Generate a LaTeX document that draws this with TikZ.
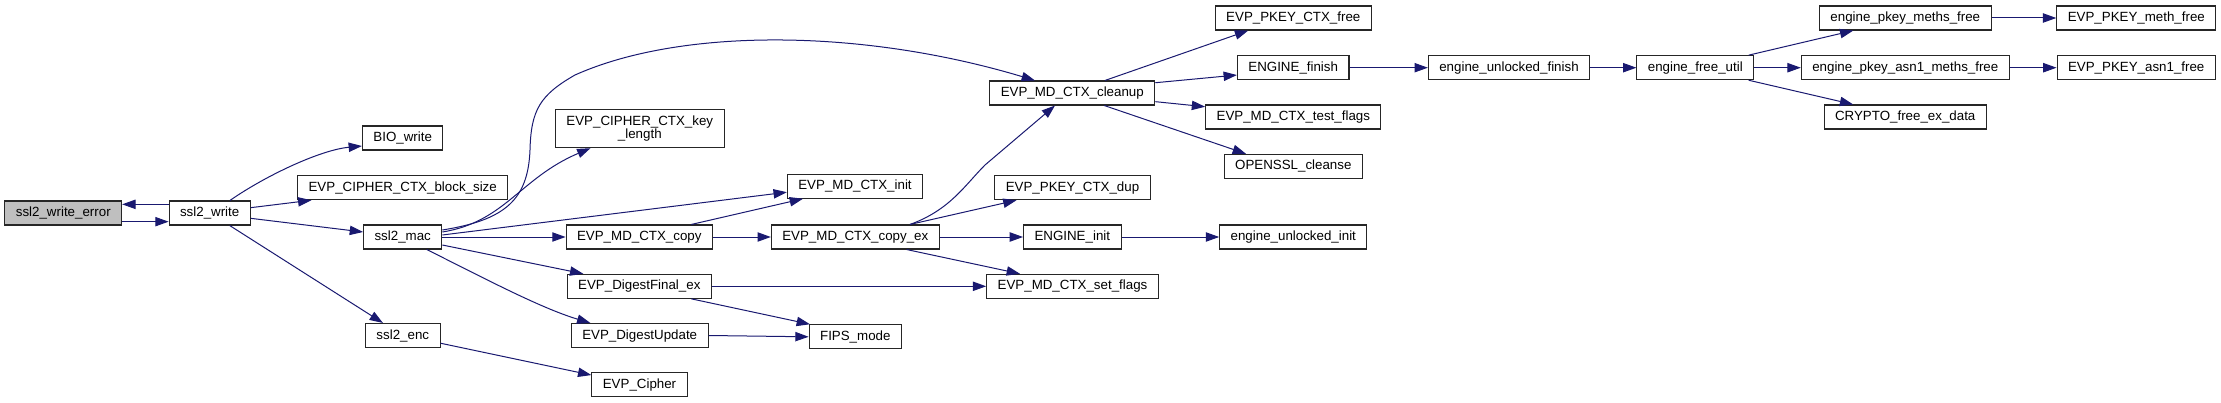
\documentclass[tikz,border=0pt]{standalone}
\usepackage{fontspec}
\setmainfont{Liberation Sans}
\usetikzlibrary{arrows.meta}
\usepackage{tikz}
\definecolor{edgeblue}{HTML}{191970}
\definecolor{boxgray}{HTML}{BFBFBF}

\begin{document}
\begin{tikzpicture}[x=0.75pt, y=-0.75pt,
    fn/.style={draw=black!85, line width=0.8pt, fill=white, minimum height=18pt, inner xsep=8.2pt, inner ysep=0pt, text height=7.5pt, text depth=2pt, font=\fontsize{10}{10}\selectfont},
    call/.style={draw=edgeblue, line width=0.75pt, -{Triangle[length=10pt, width=7pt]}}]
    \useasboundingbox (0,0) rectangle (2221,403);
    \node[fn, fill=boxgray] (err) at (63.3,213) {ssl2\_write\_error};
    \node[fn] (write) at (209.7,213) {ssl2\_write};
    \node[fn] (bio) at (402.7,138) {BIO\_write};
    \node[fn] (blocksize) at (402.7,187.7) {EVP\_CIPHER\_CTX\_block\_size};
    \node[fn] (mac) at (402.7,237) {ssl2\_mac};
    \node[fn] (enc) at (402.8,335.5) {ssl2\_enc};
    \node[fn, text height=, text depth=, minimum height=28.3pt, align=center] (keylen) at (639.8,128.8) {EVP\_CIPHER\_CTX\_key\\\_length};
    \node[fn] (mdcopy) at (639.3,237) {EVP\_MD\_CTX\_copy};
    \node[fn] (dfinal) at (639.3,286.3) {EVP\_DigestFinal\_ex};
    \node[fn] (dupdate) at (639.7,335.5) {EVP\_DigestUpdate};
    \node[fn] (cipher) at (639.5,384.8) {EVP\_Cipher};
    \node[fn] (mdinit) at (855,186.2) {EVP\_MD\_CTX\_init};
    \node[fn] (copyex) at (855.3,237) {EVP\_MD\_CTX\_copy\_ex};
    \node[fn] (fips) at (855.3,336.8) {FIPS\_mode};
    \node[fn] (cleanup) at (1072.3,93) {EVP\_MD\_CTX\_cleanup};
    \node[fn] (pkdup) at (1072.5,187.7) {EVP\_PKEY\_CTX\_dup};
    \node[fn] (einit) at (1072.3,237) {ENGINE\_init};
    \node[fn] (setflags) at (1072.5,286.3) {EVP\_MD\_CTX\_set\_flags};
    \node[fn] (pkfree) at (1293.3,18) {EVP\_PKEY\_CTX\_free};
    \node[fn] (efinish) at (1293.2,67.7) {ENGINE\_finish};
    \node[fn] (testflags) at (1293.3,117) {EVP\_MD\_CTX\_test\_flags};
    \node[fn] (cleanse) at (1293.3,166.3) {OPENSSL\_cleanse};
    \node[fn] (euinit) at (1293.3,237) {engine\_unlocked\_init};
    \node[fn] (eufinish) at (1509,67.7) {engine\_unlocked\_finish};
    \node[fn] (freeutil) at (1695.3,67.7) {engine\_free\_util};
    \node[fn] (pmfree) at (1905.3,18) {engine\_pkey\_meths\_free};
    \node[fn] (pamfree) at (1905.3,67.7) {engine\_pkey\_asn1\_meths\_free};
    \node[fn] (cryptofree) at (1905.2,117) {CRYPTO\_free\_ex\_data};
    \node[fn] (pkmfree) at (2136.3,18) {EVP\_PKEY\_meth\_free};
    \node[fn] (pkafree) at (2136.2,67.7) {EVP\_PKEY\_asn1\_free};
    \draw[call] ([yshift=-6.5pt]err.east) -- ([yshift=-6.5pt]write.west);
    \draw[call] ([yshift=6.5pt]write.west) -- ([yshift=6.5pt]err.east);
    \draw[call] ([xshift=15.2pt]write.north) .. controls (265,176) and (320,150) .. ([yshift=-6pt]bio.west);
    \draw[call] ([yshift=4pt]write.east) -- ([xshift=10.7pt]blocksize.south west);
    \draw[call] ([yshift=-4pt]write.east) -- ([yshift=3.75pt]mac.west);
    \draw[call] ([xshift=15pt]write.south) -- ([xshift=-14.9pt]enc.north);
    \draw[call] ([yshift=5.25pt]mac.east) .. controls (505,220) and (528,200) .. (530,150) .. controls (531,110) and (540,95) .. (575,75) .. controls (680,28) and (860,28) .. ([xshift=-28pt]cleanup.north);
    \draw[call] ([yshift=3.75pt]mac.east) .. controls (505,222) and (520,178) .. ([xshift=-37pt]keylen.south);
    \draw[call] ([yshift=1.5pt]mac.east) -- ([yshift=-4.5pt]mdinit.west);
    \draw[call] (mac.east) -- (mdcopy.west);
    \draw[call] ([yshift=-6pt]mac.east) -- ([xshift=-42pt]dfinal.north);
    \draw[call] ([xshift=18pt]mac.south) .. controls (480,276) and (540,308) .. ([xshift=-37pt]dupdate.north);
    \draw[call] ([yshift=-5.8pt]enc.east) -- ([yshift=7.3pt]cipher.west);
    \draw[call] ([xshift=39pt]mdcopy.north) -- ([xshift=-39pt]mdinit.south);
    \draw[call] (mdcopy.east) -- (copyex.west);
    \draw[call] (dfinal.east) -- (setflags.west);
    \draw[call] ([xshift=39pt]dfinal.south) -- ([xshift=1pt]fips.north west);
    \draw[call] (dupdate.east) -- (fips.west);
    \draw[call] ([xshift=41pt]copyex.north) .. controls (950,210) and (965,185) .. (985,165) -- ([xshift=-13pt]cleanup.south);
    \draw[call] ([xshift=41pt]copyex.north) -- ([xshift=-42pt]pkdup.south);
    \draw[call] (copyex.east) -- (einit.west);
    \draw[call] ([xshift=38.5pt]copyex.south) -- ([xshift=-39.4pt]setflags.north);
    \draw[call] ([xshift=24.5pt]cleanup.north) -- ([xshift=-33.8pt]pkfree.south);
    \draw[call] ([yshift=7.7pt]cleanup.east) -- ([yshift=-5.5pt]efinish.west);
    \draw[call] ([yshift=-6.5pt]cleanup.east) -- ([yshift=7.7pt]testflags.west);
    \draw[call] ([xshift=24pt]cleanup.south) -- ([xshift=-35.5pt]cleanse.north);
    \draw[call] (efinish.east) -- (eufinish.west);
    \draw[call] (einit.east) -- (euinit.west);
    \draw[call] (eufinish.east) -- (freeutil.west);
    \draw[call] ([xshift=40pt]freeutil.north) -- ([xshift=-39pt]pmfree.south);
    \draw[call] (freeutil.east) -- (pamfree.west);
    \draw[call] ([xshift=40pt]freeutil.south) -- ([xshift=-39pt]cryptofree.north);
    \draw[call] (pmfree.east) -- (pkmfree.west);
    \draw[call] (pamfree.east) -- (pkafree.west);
\end{tikzpicture}
\end{document}
